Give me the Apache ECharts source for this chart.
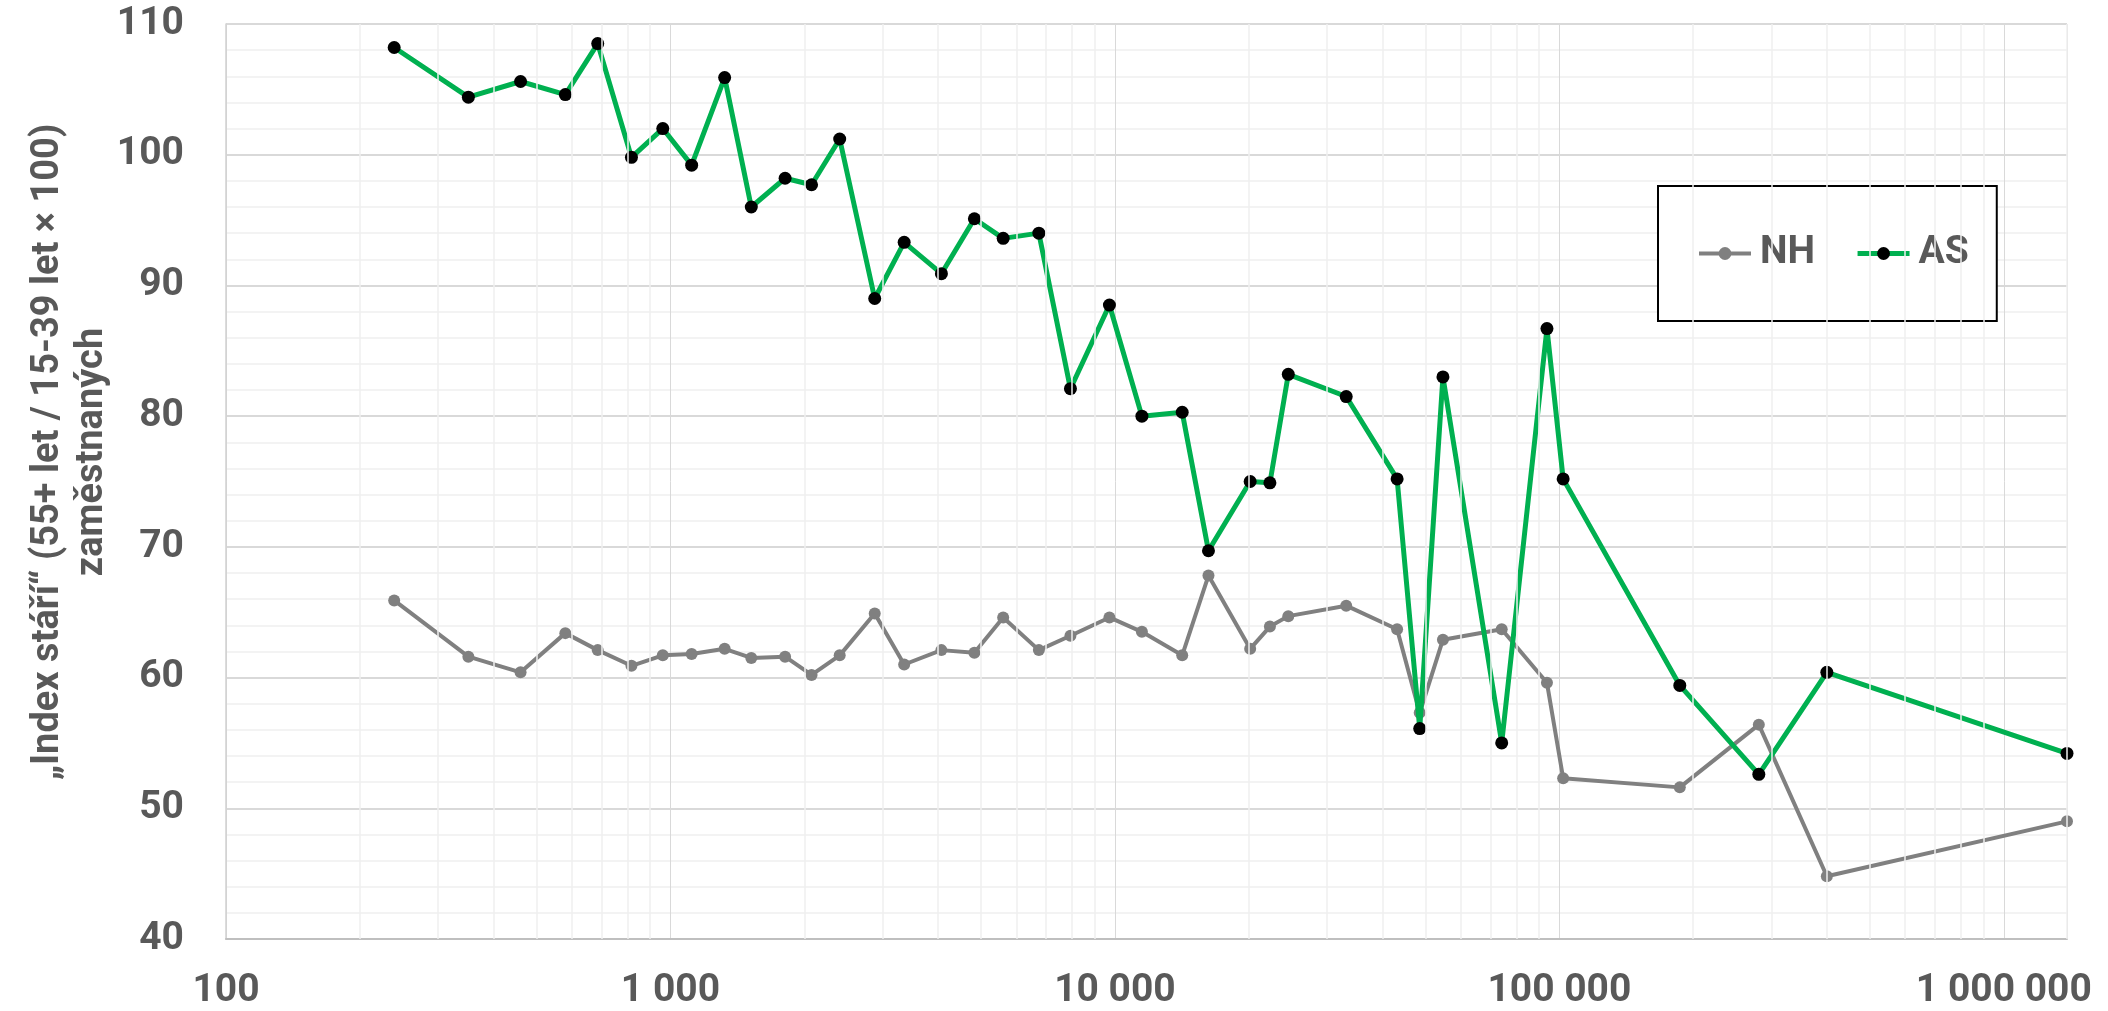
<!DOCTYPE html>
<html>
<head>
<meta charset="utf-8">
<script src="https://cdn.jsdelivr.net/npm/echarts@6/dist/echarts.min.js"></script>
<style>
html,body{margin:0;padding:0;background:#fff;}
#chart{width:2108px;height:1011px;}
</style>
</head>
<body>
<div id="chart"></div>
<script>
// Population size (x, log scale)
const xValues = [239, 351, 460, 580, 686, 817, 961, 1116, 1324, 1520, 1811, 2077, 2403, 2881, 3356, 4070, 4828, 5605, 6743, 7942,
  9719, 11500, 14170, 16235, 20150, 22320, 24550, 33140, 43140, 48500, 54700, 74170, 93760, 101970, 186600, 281000, 399700, 1387000];
const nhValues = [65.9, 61.6, 60.4, 63.4, 62.1, 60.9, 61.7, 61.8, 62.2, 61.5, 61.6, 60.2, 61.7, 64.9, 61.0, 62.1, 61.9, 64.6, 62.1, 63.2,
  64.6, 63.5, 61.7, 67.8, 62.2, 63.9, 64.7, 65.5, 63.7, 57.3, 62.9, 63.7, 59.6, 52.3, 51.6, 56.4, 44.8, 49.0];
const asValues = [108.2, 104.4, 105.6, 104.6, 108.5, 99.8, 102.0, 99.2, 105.9, 96.0, 98.2, 97.7, 101.2, 89.0, 93.3, 90.9, 95.1, 93.6, 94.0, 82.1,
  88.5, 80.0, 80.3, 69.7, 75.0, 74.9, 83.2, 81.5, 75.2, 56.1, 83.0, 55.0, 86.7, 75.2, 59.4, 52.6, 60.4, 54.2];
const seriesNames = ['NH', 'AS'];
const yTitleLines = ['„Index stáří“ (55+ let / 15-39 let × 100)', 'zaměstnaných'];

// minor log gridlines (2..9 × 10^k)
const minorX = [];
for (let k = 2; k <= 5; k++) {
  for (let m = 2; m <= 9; m++) minorX.push(m * Math.pow(10, k));
}
minorX.push(xValues[xValues.length - 1]);

const FONT = 'Roboto';
const TXT = '#595959';
const GRAY = '#808080';
const GREEN = '#00b050';

const chart = echarts.init(document.getElementById('chart'));
chart.setOption({
  animation: false,
  backgroundColor: '#fff',
  grid: { left: 226, right: 41, top: 24, bottom: 72, containLabel: false },
  legend: {
    data: [
      { name: seriesNames[0], lineStyle: { width: 4, color: GRAY }, itemStyle: { color: GRAY } },
      { name: seriesNames[1], lineStyle: { width: 5, color: GREEN }, itemStyle: { color: '#000' } }
    ],
    left: 1658, top: 186,
    orient: 'horizontal',
    backgroundColor: '#fff',
    borderColor: '#000', borderWidth: 2,
    padding: [48, 28, 48, 39],
    itemWidth: 52, itemHeight: 16, itemGap: 40,
    textStyle: { color: TXT, fontFamily: FONT, fontWeight: 'bold', fontSize: 39, padding: [0, 0, 0, 4] }
  },
  xAxis: {
    type: 'log', logBase: 10,
    min: 100, max: xValues[xValues.length - 1],
    interval: 1,
    axisLine: { show: true, lineStyle: { color: '#bfbfbf', width: 2 } },
    axisTick: { show: false },
    splitLine: { show: true, lineStyle: { color: '#d9d9d9', width: 1 } },
    axisLabel: {
      color: TXT, fontFamily: FONT, fontWeight: 'bold', fontSize: 39, margin: 33,
      formatter: v => String(Math.round(v)).replace(/\B(?=(\d{3})+(?!\d))/g, ' ')
    }
  },
  yAxis: {
    type: 'value', min: 40, max: 110, interval: 10,
    axisLine: { show: true, lineStyle: { color: '#d0d0d0', width: 1.5 } },
    axisTick: { show: false },
    splitLine: { show: true, lineStyle: { color: '#d9d9d9', width: 2 } },
    minorTick: { show: false, splitNumber: 5 },
    minorSplitLine: { show: true, lineStyle: { color: '#f0f0f0', width: 1.5 } },
    axisLabel: { color: TXT, fontFamily: FONT, fontWeight: 'bold', fontSize: 39, margin: 42 }
  },
  graphic: [{
    type: 'text',
    x: 70, y: 452,
    rotation: Math.PI / 2,
    style: {
      text: yTitleLines.join('\n'),
      fill: TXT, fontFamily: FONT, fontWeight: 'bold', fontSize: 38,
      lineHeight: 44, align: 'center', verticalAlign: 'middle'
    }
  }],
  series: [
    {
      name: '_minor', type: 'line', data: [], z: 1, silent: true,
      markLine: {
        silent: true, symbol: 'none', animation: false,
        label: { show: false },
        lineStyle: { color: '#efefef', type: 'solid', width: 1.5 },
        data: minorX.map(v => ({ xAxis: v }))
      }
    },
    {
      name: 'NH', type: 'line', z: 3,
      data: xValues.map((x, i) => [x, nhValues[i]]),
      symbol: 'circle', symbolSize: 12,
      itemStyle: { color: GRAY },
      lineStyle: { color: GRAY, width: 4 }
    },
    {
      name: 'AS', type: 'line', z: 4,
      data: xValues.map((x, i) => [x, asValues[i]]),
      symbol: 'circle', symbolSize: 13,
      itemStyle: { color: '#000000', borderWidth: 0 },
      lineStyle: { color: GREEN, width: 5 }
    }
  ]
});
</script>
</body>
</html>
